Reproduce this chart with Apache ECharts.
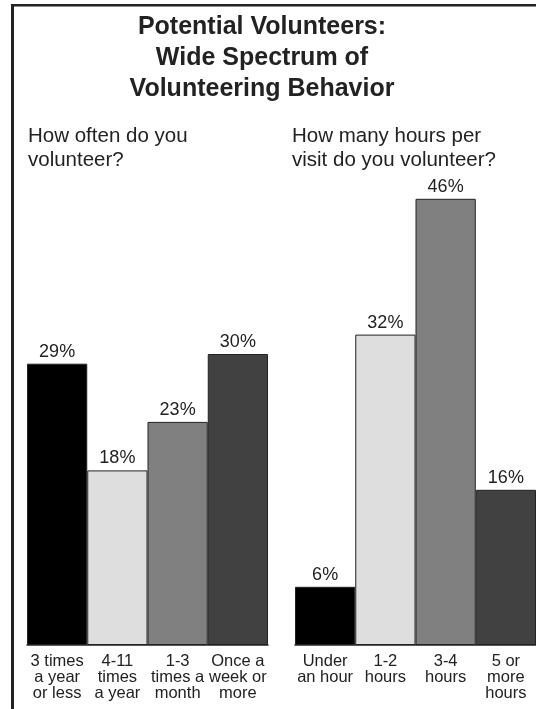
<!DOCTYPE html>
<html>
<head>
<meta charset="utf-8">
<script src="https://cdn.jsdelivr.net/npm/echarts@6/dist/echarts.min.js"></script>
<style>
html,body{margin:0;padding:0;background:#fff;}
#chart{width:536px;height:709px;}
</style>
</head>
<body>
<div id="chart"></div>
<script>
const titleText = 'Potential Volunteers:\nWide Spectrum of\nVolunteering Behavior';
const leftSubtitle = 'How often do you\nvolunteer?';
const rightSubtitle = 'How many hours per\nvisit do you volunteer?';
const leftCategories = ['3 times\na year\nor less', '4-11\ntimes\na year', '1-3\ntimes a\nmonth', 'Once a\nweek or\nmore'];
const leftValues = [29, 18, 23, 30];
const rightCategories = ['Under\nan hour', '1-2\nhours', '3-4\nhours', '5 or\nmore\nhours'];
const rightValues = [6, 32, 46, 16];
const barColors = ['#000000', '#dedede', '#808080', '#414141'];

const FONT = '"Liberation Sans", Arial, Helvetica, sans-serif';
const INK = '#222222';

function mkData(vals) {
  return vals.map((v, i) => ({ value: v, itemStyle: { color: barColors[i] } }));
}
function xAx(idx, cats) {
  return {
    type: 'category', gridIndex: idx, data: cats,
    axisTick: { show: false },
    axisLine: { show: true, lineStyle: { color: INK, width: 1.5 } },
    axisLabel: { interval: 0, margin: 8, color: INK, fontFamily: FONT, fontSize: 16.5, lineHeight: 16, align: 'center', verticalAlign: 'top' }
  };
}
function yAx(idx) {
  return { type: 'value', gridIndex: idx, min: 0, max: 50, show: false, splitLine: { show: false } };
}
function barSeries(idx, vals) {
  return {
    type: 'bar', xAxisIndex: idx, yAxisIndex: idx, data: mkData(vals),
    barWidth: '100%', barCategoryGap: '0%',
    itemStyle: { borderColor: INK, borderWidth: 1 },
    label: { show: true, position: 'top', distance: 3, formatter: '{c}%', color: INK, fontFamily: FONT, fontSize: 18 },
    silent: true
  };
}

const chart = echarts.init(document.getElementById('chart'), null, { renderer: 'canvas' });
chart.setOption({
  backgroundColor: '#ffffff',
  animation: false,
  title: [
    { text: titleText, left: 262, top: 12, padding: 0, textAlign: 'center',
      textStyle: { fontFamily: FONT, fontSize: 25, fontWeight: 'bold', lineHeight: 31, color: INK } },
    { text: leftSubtitle, left: 28, top: 125, padding: 0,
      textStyle: { fontFamily: FONT, fontSize: 20.5, fontWeight: 'normal', lineHeight: 23.5, color: INK } },
    { text: rightSubtitle, left: 292, top: 125, padding: 0,
      textStyle: { fontFamily: FONT, fontSize: 20.5, fontWeight: 'normal', lineHeight: 23.5, color: INK } }
  ],
  grid: [
    { left: 27, width: 241, top: 160, height: 485 },
    { left: 295, width: 241, top: 160, height: 485 }
  ],
  xAxis: [xAx(0, leftCategories), xAx(1, rightCategories)],
  yAxis: [yAx(0), yAx(1)],
  series: [barSeries(0, leftValues), barSeries(1, rightValues)],
  graphic: [
    { type: 'line', shape: { x1: 12.5, y1: 4, x2: 12.5, y2: 709 }, style: { stroke: INK, lineWidth: 3 } },
    { type: 'line', shape: { x1: 11, y1: 5.2, x2: 536, y2: 5.2 }, style: { stroke: INK, lineWidth: 2.5 } }
  ]
});
</script>
</body>
</html>
